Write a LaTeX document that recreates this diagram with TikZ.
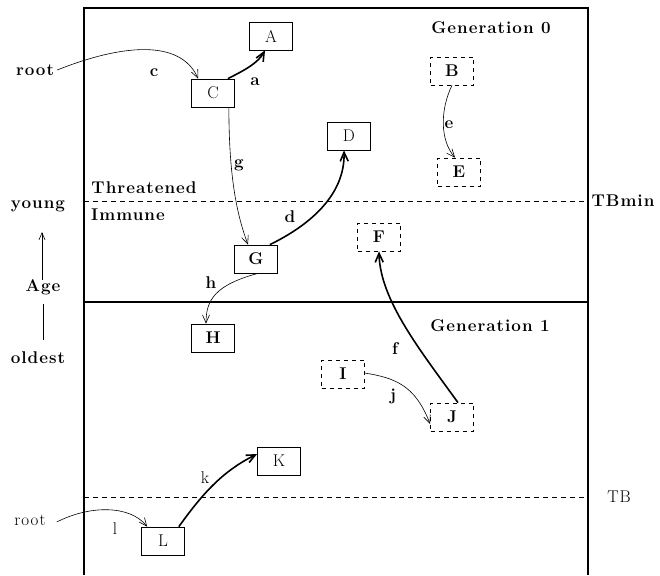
\documentclass[tikz,border=0pt]{standalone}
\usepackage{fontspec}
\setmainfont{Latin Modern Roman}
\newfontfamily\lblfont{Latin Modern Roman}[LetterSpace=6]
\usetikzlibrary{arrows.meta}
\tikzset{
  txt/.style={font=\fontsize{17}{19}\selectfont\lblfont\bfseries, inner sep=0pt},
  txtn/.style={font=\fontsize{17}{19}\selectfont\lblfont, inner sep=0pt},
  box/.style={draw, line width=0.7pt, minimum width=43pt, minimum height=28pt, inner sep=0pt, font=\fontsize{17}{19}\selectfont\bfseries},
  boxn/.style={box, font=\fontsize{17}{19}\selectfont},
  dbox/.style={box, dash pattern=on 4pt off 4pt},
  lnk/.style={line width=0.6pt, -{Straight Barb[length=8pt,width=7pt]}},
  tlnk/.style={line width=1.6pt, -{Straight Barb[length=9pt,width=8pt]}},
  frame/.style={line width=1.4pt},
  dline/.style={line width=0.7pt, dash pattern=on 5pt off 4pt},
}
\begin{document}
\begin{tikzpicture}[x=1pt,y=-1pt]
\useasboundingbox (0,0) rectangle (660,575);
% frame
\draw[frame] (84,575) -- (84,8) -- (588,8) -- (588,575);
\draw[frame] (84,302) -- (588,302);
\draw[dline] (84,201) -- (588,201);
\draw[dline] (84,497) -- (588,497);
% texts
\node[txt] at (491,28) {Generation 0};
\node[txt] at (490,326) {Generation 1};
\node[txt] at (144,188) {Threatened};
\node[txt] at (128,215) {Immune};
\node[txt] at (623,201) {TBmin};
\node[txtn] at (619,497) {TB};
\node[txt] (young) at (38,206) {young};
\node[txt] (age) at (43,287) {Age};
\node[txt] (oldest) at (38,358) {oldest};
\coordinate (agetop) at (42,280);
\coordinate (ageup) at (42,232);
\coordinate (agebot) at (43,304);
\coordinate (agelow) at (43,340);
\draw[line width=0.6pt, -{Straight Barb[length=7pt,width=6pt]}] (agetop) -- (ageup);
\draw[line width=0.6pt] (agebot) -- (agelow);
% nodes
\node[boxn] (A) at (271,36) {A};
\node[boxn] (C) at (213,93) {C};
\node[dbox] (B) at (452,71) {B};
\node[dbox] (E) at (459,172) {E};
\node[boxn] (D) at (349,136) {D};
\node[box] (G) at (256,259) {G};
\node[dbox] (F) at (379,237) {F};
\node[box] (H) at (213,338) {H};
\node[dbox] (I) at (343,374) {I};
\node[dbox] (J) at (452,417) {J};
\node[boxn] (K) at (279,461) {K};
\node[boxn] (L) at (163,541) {L};
\node[txt] (root) at (35,70) {root};
\node[txtn] (root2) at (30,520) {root};
% edge labels
\node[txt] at (154,73) {c};
\node[txt] at (255,82) {a};
\node[txt] at (239,165) {g};
\node[txt] at (290,217) {d};
\node[txt] at (449,125) {e};
\node[txt] at (211,283) {h};
\node[txt] at (395,349) {f};
\node[txt] at (393,396) {j};
\node[txtn] at (205,478) {k};
\node[txtn] at (115,529) {l};
% edges
\draw[lnk] ([xshift=3pt]root.east) .. controls (120,45) and (180,38) .. ([xshift=7pt]C.north west);
\draw[tlnk] ([xshift=-7pt]C.north east) .. controls (245,70) and (258,63) .. ([xshift=-6pt]A.south);
\draw[lnk] ([xshift=-6pt]C.south east) .. controls (229,170) and (235,210) .. ([xshift=-8pt]G.north);
\draw[tlnk] ([xshift=-8pt]G.north east) .. controls (310,225) and (345,195) .. ([xshift=-5pt]D.south);
\draw[lnk] (B.south) .. controls (440,110) and (440,140) .. ([xshift=-4pt]E.north);
\draw[lnk] ([xshift=2pt]G.south) .. controls (215,285) and (206,300) .. ([xshift=-7pt]H.north);
\draw[tlnk] ([xshift=6pt]J.north) .. controls (420,350) and (380,300) .. (F.south);
\draw[lnk] ([yshift=1pt]I.east) .. controls (395,378) and (415,385) .. ([yshift=-7pt]J.west);
\draw[tlnk] ([xshift=-6pt]L.north east) .. controls (205,490) and (225,470) .. ([yshift=7pt]K.west);
\draw[lnk] ([xshift=11pt,yshift=-2pt]root2.east) .. controls (90,505) and (130,505) .. ([xshift=6pt]L.north west);
\end{tikzpicture}
\end{document}
